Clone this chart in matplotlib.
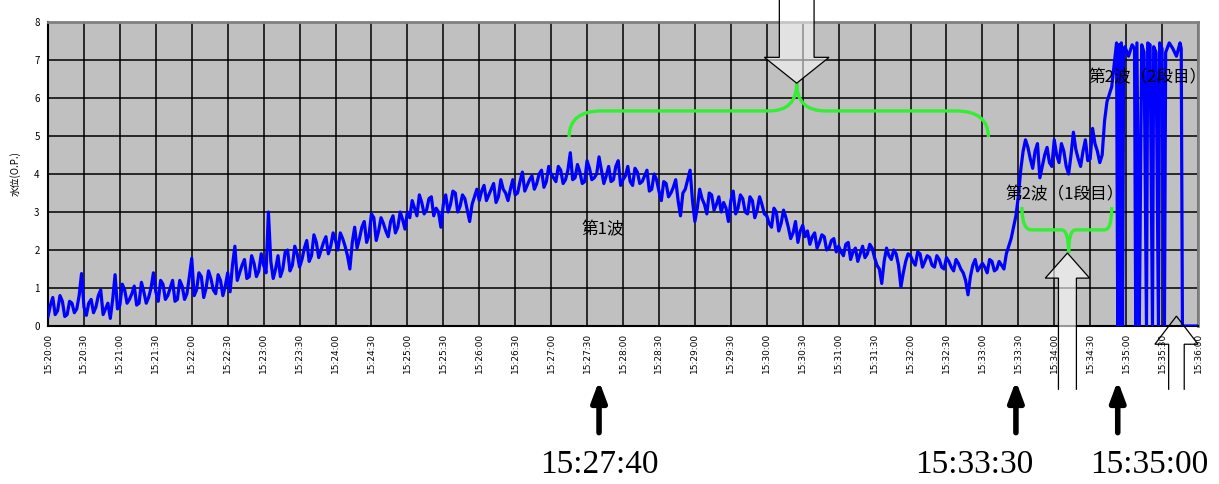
import numpy as np
import matplotlib
matplotlib.use("Agg")
import matplotlib.pyplot as plt
from matplotlib.patches import Polygon, PathPatch
from matplotlib.path import Path

plt.rcParams['font.family'] = ['Noto Sans CJK JP', 'DejaVu Sans']

# 水位データ: 15:20:00 から 4 秒ごと (0 s .. 888 s)
step_s = 4
level_main = [
    0.25, 0.75, 0.4, 0.65, 0.3, 0.6, 0.45, 1.38, 0.28, 0.7, 0.5, 0.95, 0.45, 0.2, 1.35,
    0.55, 0.95, 0.7, 1.05, 0.6, 0.9, 0.75, 1.4, 0.65, 1.1, 0.8, 1.2, 0.7, 1.05, 0.85,
    1.78, 0.95, 1.3, 1.0, 1.25, 0.85, 1.2, 1.05, 0.9, 2.1, 1.4, 1.75, 1.3, 1.65, 1.45,
    1.6, 3.0, 1.25, 1.85, 1.5, 2.0, 1.6, 1.9, 1.75, 2.25, 1.85, 2.2, 2.0, 2.35, 2.1,
    2.25, 2.45, 2.1, 1.5, 2.6, 2.3, 2.75, 2.4, 2.85, 2.5, 2.7, 2.35, 2.9, 2.6, 2.8,
    3.0, 3.3, 2.9, 3.25, 3.05, 3.4, 3.1, 2.6, 3.45, 3.2, 3.5, 3.15, 3.35, 2.75, 3.4,
    3.3, 3.7, 3.45, 3.75, 3.4, 3.6, 3.3, 3.85, 3.5, 4.05, 3.7, 3.95, 3.75, 4.1, 3.8,
    4.0, 3.8, 4.1, 3.85, 4.56, 3.9, 4.05, 3.8, 4.15, 3.9, 4.45, 3.75, 4.2, 3.85, 4.35,
    3.85, 4.2, 3.7, 4.05, 3.8, 4.1, 3.6, 3.85, 3.3, 3.75, 3.5, 3.85, 2.9, 3.6, 4.1,
    2.75, 3.6, 3.2, 3.5, 3.05, 3.4, 3.25, 2.75, 3.55, 3.1, 3.35, 2.95, 3.3, 3.05, 3.2,
    2.9, 2.6, 3.0, 2.7, 2.85, 2.3, 2.75, 2.5, 2.35, 2.15, 2.45, 2.2, 2.35, 2.05, 2.3,
    2.1, 1.85, 2.2, 1.95, 1.7, 2.1, 1.9, 2.05, 1.6, 1.12, 2.05, 1.75, 1.9, 1.03, 1.7,
    1.85, 1.6, 1.9, 1.7, 1.8, 1.55, 1.75, 1.5, 1.7, 1.45, 1.65, 1.4, 0.82, 1.6, 1.45,
    1.65, 1.4, 1.7, 1.5, 1.6, 1.9, 2.3, 2.9, 4.1, 4.9, 4.4, 4.6, 3.9, 4.5, 4.3,
    4.9, 4.3, 4.6, 4.0, 5.1, 4.4, 4.6, 4.35, 5.2, 4.6, 4.5, 5.9, 6.3,
]
# 中間の読み取り値 (2 s, 6 s, ... 886 s)
level_mid = [
    0.55, 0.3, 0.8, 0.25, 0.65, 0.35, 0.8, 0.5, 0.6, 0.35, 0.8, 0.3, 0.6, 0.7, 0.45,
    1.1, 0.6, 0.85, 0.55, 1.15, 0.6, 1.0, 0.9, 1.2, 0.7, 1.0, 0.65, 1.2, 0.7, 1.3,
    0.8, 1.4, 0.75, 1.45, 0.95, 1.35, 0.8, 1.4, 1.6, 1.2, 1.6, 1.25, 1.85, 1.3, 1.9,
    1.4, 1.7, 1.5, 1.3, 1.95, 1.45, 2.1, 1.55, 2.05, 1.7, 2.4, 1.8, 2.2, 1.9, 2.45,
    2.0, 2.3, 1.85, 2.2, 2.05, 2.6, 2.2, 2.95, 2.25, 2.85, 2.5, 2.75, 2.45, 3.0, 2.55,
    2.85, 3.1, 3.45, 2.95, 3.35, 2.9, 3.0, 3.2, 3.0, 3.55, 3.0, 3.45, 3.05, 3.2, 3.6,
    3.55, 3.3, 3.6, 3.25, 3.85, 3.5, 3.6, 3.45, 3.8, 3.55, 3.85, 3.6, 4.0, 3.65, 4.2,
    3.9, 4.2, 3.75, 4.1, 3.85, 4.25, 3.75, 4.35, 3.85, 4.0, 4.1, 3.95, 3.8, 4.2, 3.7,
    3.95, 3.8, 4.15, 3.75, 3.95, 3.55, 4.0, 3.55, 3.8, 3.4, 3.65, 3.3, 3.5, 3.85, 3.3,
    3.1, 3.35, 2.95, 3.45, 3.2, 3.0, 3.1, 3.3, 2.95, 3.45, 3.0, 3.4, 2.85, 3.4, 2.95,
    2.7, 3.1, 2.5, 3.05, 2.6, 2.45, 2.2, 2.65, 2.5, 2.35, 2.05, 2.4, 2.0, 2.25, 1.95,
    1.95, 2.15, 1.75, 2.05, 1.9, 1.8, 2.15, 1.8, 1.5, 1.7, 1.85, 2.0, 1.6, 1.4, 1.9,
    1.7, 1.95, 1.55, 1.85, 1.6, 1.85, 1.55, 1.8, 1.55, 1.75, 1.5, 1.2, 1.3, 1.75, 1.55,
    1.55, 1.75, 1.45, 1.7, 1.5, 2.1, 2.6, 3.4, 4.6, 4.7, 4.15, 4.8, 4.2, 4.7, 4.2,
    4.5, 4.8, 4.2, 4.5, 4.65, 4.2, 4.9, 4.4, 4.8, 4.3, 5.4, 6.1,
]
# 第2波(2段目)以降 (秒, 水位) — 欠測で 0 に落ちる区間
tail_t = [892, 893, 894, 895, 896, 897, 898, 899, 902, 905, 907, 908, 909, 911, 913,
          915, 917, 918, 920, 922, 923, 925, 927, 928, 930, 932, 933, 936, 939, 942,
          945, 946, 947, 960]
tail_v = [7.45, 0, 7.4, 0, 7.45, 0, 7.3, 7.35, 7.1, 7.4, 7.3, 0, 7.45, 0, 7.4,
          7.2, 0, 7.45, 7.4, 0, 7.35, 7.2, 0, 7.45, 7.3, 0, 7.2, 7.45, 7.3, 7.1,
          7.45, 7.3, 0, 0]

tick_s = list(range(0, 961, 30))
tick_labels = [f"15:{20 + s // 60:02d}:{s % 60:02d}" for s in tick_s]

mark_labels = ["15:27:40", "15:33:30", "15:35:00"]
mark_arrow_s = [460, 808, 893]
mark_text_s = [460, 773, 919]

t_main = np.arange(len(level_main)) * step_s
t_mid = np.arange(len(level_mid)) * step_s + step_s // 2
order = np.argsort(np.concatenate([t_main, t_mid]), kind='stable')
t = np.concatenate([np.concatenate([t_main, t_mid])[order], tail_t])
v = np.concatenate([np.concatenate([level_main, level_mid])[order], tail_v])

W, H = 1219, 484
fig = plt.figure(figsize=(W / 100, H / 100), dpi=100)
ax = fig.add_axes([48 / W, 1 - 326 / H, 1150 / W, 304 / H])
ax.set_facecolor('#c0c0c0')
ax.set_axisbelow(True)
ax.grid(True, color='black', lw=1.1)

ax.plot(t, v, color='#0000ff', lw=2.3, zorder=3)

ax.set_xlim(0, 960)
ax.set_ylim(0, 8)
ax.set_xticks(tick_s)
ax.set_xticklabels(tick_labels, rotation=90, fontsize=6.5, family='DejaVu Sans')
ax.set_yticks(range(0, 9))
ax.tick_params(axis='y', labelsize=7, length=0, pad=6)
ax.tick_params(axis='x', length=0, pad=5)
ax.set_ylabel('水位(O.P.)', fontsize=7, labelpad=10)
for side in ['left', 'bottom']:
    ax.spines[side].set_color('black')
    ax.spines[side].set_linewidth(1.5)
for side in ['top', 'right']:
    ax.spines[side].set_color('#808080')
    ax.spines[side].set_linewidth(2)


def brace(pts):
    # pts: left end, left corner, mid-left, tip, mid-right, right corner, right end
    (x0, y0), (x1, y1), (x2, _), (xt, yt), (x3, _), (x4, _), (x5, y5) = pts
    verts = [(x0, y0), (x0, y1), (x1, y1), (x2, y1), (xt, y1), (xt, yt),
             (xt, y1), (x3, y1), (x4, y1), (x5, y1), (x5, y5)]
    codes = [Path.MOVETO, Path.CURVE3, Path.CURVE3, Path.LINETO, Path.CURVE3, Path.CURVE3,
             Path.CURVE3, Path.CURVE3, Path.LINETO, Path.CURVE3, Path.CURVE3]
    ax.add_patch(PathPatch(Path(verts, codes), fill=False, ec='#33ee33', lw=2.4,
                           clip_on=False, zorder=4))


brace([(435, 4.97), (462, 5.66), (602, 5.66), (625, 6.39), (649, 5.66), (758, 5.66), (785, 4.97)])
brace([(813, 3.13), (821, 2.53), (846, 2.53), (852, 1.92), (858, 2.53), (882, 2.53), (888, 3.13)])


def block_arrow(x, y, shaft_w, head_w, head_len, length, up, fc, alpha=1.0):
    s = 1 if up else -1
    base = y - s * head_len
    tail = y - s * length
    verts = [(x - shaft_w / 2, tail), (x - shaft_w / 2, base), (x - head_w / 2, base), (x, y),
             (x + head_w / 2, base), (x + shaft_w / 2, base), (x + shaft_w / 2, tail)]
    ax.add_patch(Polygon(verts, closed=False, fc=fc, alpha=alpha, ec='none', clip_on=False, zorder=5))
    ax.add_patch(Polygon(verts, closed=False, fill=False, ec='black', lw=0.9, clip_on=False, zorder=6))


block_arrow(625, 6.39, 29, 54, 0.68, 2.6, False, 'white', 0.55)
block_arrow(851, 1.92, 15, 37, 0.66, 3.6, True, 'white', 0.6)
block_arrow(942, 0.26, 13, 36, 0.74, 1.94, True, 'none')

ax.text(463, 2.53, '第1波', fontsize=12, ha='center', va='center', zorder=7)
ax.text(849, 3.45, '第2波（1段目）', fontsize=12, ha='center', va='center', zorder=7)
ax.text(918, 6.53, '第2波（2段目）', fontsize=12, ha='center', va='center', zorder=7, clip_on=False)

for xa in mark_arrow_s:
    ax.annotate('', xy=(xa, -0.171), xytext=(xa, -0.36),
                xycoords=('data', 'axes fraction'), textcoords=('data', 'axes fraction'),
                arrowprops=dict(arrowstyle='-|>,head_width=0.45,head_length=1.2', color='black', lw=4))
for xs, lab in zip(mark_text_s, mark_labels):
    ax.text(xs, -0.457, lab, transform=ax.get_xaxis_transform(), fontsize=24,
            family='Liberation Serif', ha='center', va='center')

fig.savefig('out.png', dpi=100)
